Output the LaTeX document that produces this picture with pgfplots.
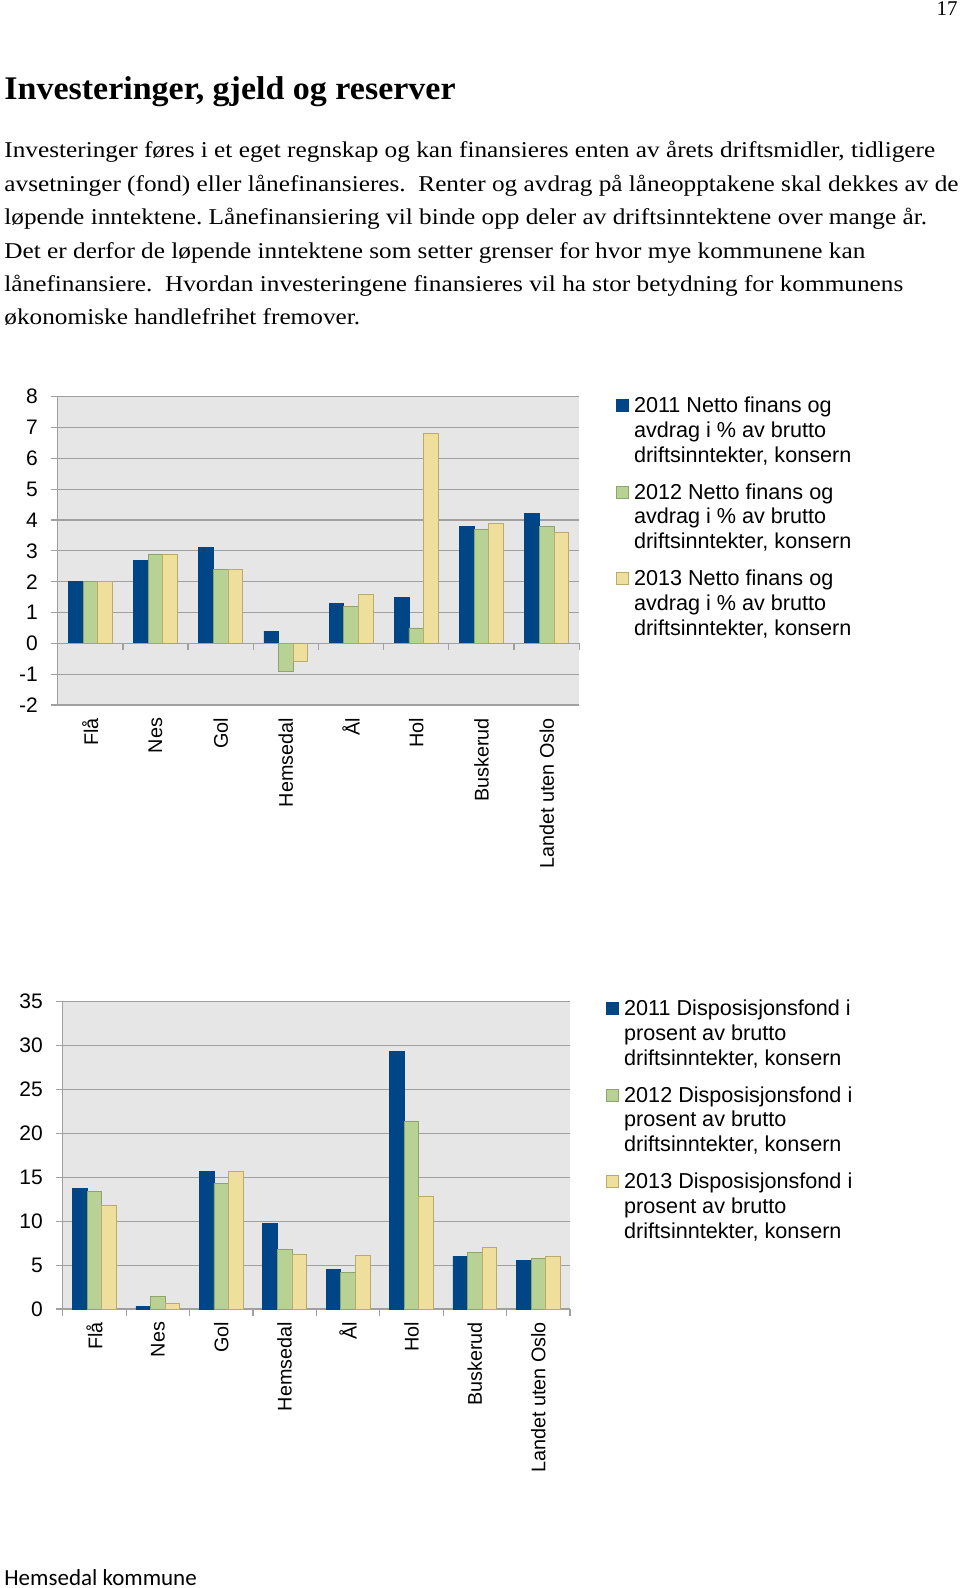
\documentclass[border=0pt]{standalone}
\usepackage{fontspec}
\setmainfont{Liberation Serif}
\newfontfamily\arial{Liberation Sans}
\newfontfamily\calibri{Carlito}
\usepackage{pgfplots}
\pgfplotsset{compat=1.18}
\usepackage{pgfplotstable}

\definecolor{cA}{HTML}{004586}
\definecolor{cB}{HTML}{B8D194}
\definecolor{cBd}{HTML}{8FA468}
\definecolor{cC}{HTML}{EEDF9C}
\definecolor{cCd}{HTML}{BCAA6C}
\definecolor{bg}{HTML}{E6E6E6}
\definecolor{gl}{HTML}{A0A0A0}

\pgfplotstableread{
x y11 y12 y13
0 2.0 2.0 2.0
1 2.7 2.9 2.9
2 3.1 2.4 2.4
3 0.4 -0.9 -0.6
4 1.3 1.2 1.6
5 1.5 0.5 6.8
6 3.8 3.7 3.9
7 4.2 3.8 3.6
}\finans
\pgfplotstableread{
x y11 y12 y13
0 13.7 13.4 11.8
1 0.3 1.4 0.6
2 15.7 14.3 15.7
3 9.7 6.8 6.2
4 4.5 4.2 6.1
5 29.3 21.4 12.8
6 6.0 6.4 7.0
7 5.5 5.8 6.0
}\fond

\pgfplotsset{
  kchart/.style={
    scale only axis,
    clip=false,
    xmin=-0.5, xmax=7.5,
    xtick={0,...,7},
    xticklabels={Flå,Nes,Gol,Hemsedal,Ål,Hol,Buskerud,Landet uten Oslo},
    x tick style={draw=none},
    xticklabel style={rotate=90, anchor=east, inner sep=0pt, font=\arial\fontsize{9.9}{12}\selectfont},
    xticklabel shift=3pt,
    yticklabel style={inner sep=0pt, font=\arial\fontsize{10.5}{12}\selectfont},
    yticklabel shift=6.5pt,
    /pgf/number format/assume math mode=true,
    axis lines*=left,
    axis line style={gl, line width=0.6pt},
    y tick style={gl, line width=0.6pt},
    tick align=outside,
    major tick length=3.3pt,
    ymajorgrids,
    major grid style={gl, line width=0.6pt},
    axis background/.style={fill=bg},
    ybar=0pt,
    bar width=7.3pt,
    legend cell align=left,
    legend image code/.code={\draw[##1, line width=0.4pt] (0pt,9pt) rectangle (6pt,15pt);},
    legend style={draw=none, fill=none, anchor=north west, inner sep=0pt,
      font=\arial\fontsize{10.8}{12.35}\selectfont,
      row sep=10.7pt, column sep=0pt,
      nodes={align=left, inner sep=0pt, outer sep=0pt, text depth=0pt},
      /tikz/every odd column/.append style={column sep=2.5pt}},
  },
  sA/.style={fill=cA, draw=cA, line width=0.4pt},
  sB/.style={fill=cB, draw=cBd, line width=0.4pt},
  sC/.style={fill=cC, draw=cCd, line width=0.4pt},
}

\begin{document}
\begin{tikzpicture}
\path[use as bounding box] (0pt,0pt) rectangle (480pt,-794pt);
\fill[white] (0pt,0pt) rectangle (480pt,-794pt);

\node[anchor=base east, inner sep=0pt, font=\fontsize{10.5}{12}\selectfont] at (479pt,-8pt) {17};
\node[anchor=base west, inner sep=0pt, xscale=1.03, font=\bfseries\fontsize{16.5}{19}\selectfont] at (2pt,-50pt) {Investeringer, gjeld og reserver};

\begin{scope}[every node/.style={anchor=base west, inner sep=0pt, xscale=1.118, font=\frenchspacing\fontsize{11.3}{13}\selectfont}]
\node at (2pt,-79pt) {Investeringer føres i et eget regnskap og kan finansieres enten av årets driftsmidler, tidligere};
\node at (2pt,-95.7pt) {avsetninger (fond) eller lånefinansieres.\ \ Renter og avdrag på låneopptakene skal dekkes av de};
\node at (2pt,-112.4pt) {løpende inntektene. Lånefinansiering vil binde opp deler av driftsinntektene over mange år.};
\node at (2pt,-129.1pt) {Det er derfor de løpende inntektene som setter grenser for hvor mye kommunene kan};
\node at (2pt,-145.8pt) {lånefinansiere.\ \ Hvordan investeringene finansieres vil ha stor betydning for kommunens};
\node at (2pt,-162.5pt) {økonomiske handlefrihet fremover.};
\end{scope}

\begin{axis}[kchart,
  at={(28.85pt,-352.5pt)}, anchor=south west,
  width=260.8pt, height=154.15pt,
  ymin=-2, ymax=8, ytick={-2,-1,...,8},
  legend style={at={(axis description cs:1.070,1.0)}},
]
\addplot[sA] table[x=x,y=y11] {\finans};
\addplot[sB] table[x=x,y=y12] {\finans};
\addplot[sC] table[x=x,y=y13] {\finans};
\legend{{2011 Netto finans og\\avdrag i \% av brutto\\driftsinntekter, konsern},
        {2012 Netto finans og\\avdrag i \% av brutto\\driftsinntekter, konsern},
        {2013 Netto finans og\\avdrag i \% av brutto\\driftsinntekter, konsern}}
\pgfplotsinvokeforeach{0.5,1.5,2.5,3.5,4.5,5.5,6.5,7.5}{\draw[gl, line width=0.6pt] (axis cs:#1,0) -- ++(0pt,-3.5pt);}
\draw[gl, line width=0.6pt] (axis cs:-0.5,0) -- (axis cs:7.5,0);
\end{axis}

\begin{axis}[kchart,
  at={(31.35pt,-654.5pt)}, anchor=south west,
  width=253.65pt, height=153.65pt,
  ymin=0, ymax=35, ytick={0,5,...,35},
  legend style={at={(axis description cs:1.071,1.0)}, yshift=1pt},
]
\addplot[sA] table[x=x,y=y11] {\fond};
\addplot[sB] table[x=x,y=y12] {\fond};
\addplot[sC] table[x=x,y=y13] {\fond};
\legend{{2011 Disposisjonsfond i\\prosent av brutto\\driftsinntekter, konsern},
        {2012 Disposisjonsfond i\\prosent av brutto\\driftsinntekter, konsern},
        {2013 Disposisjonsfond i\\prosent av brutto\\driftsinntekter, konsern}}
\pgfplotsinvokeforeach{-0.5,0.5,1.5,2.5,3.5,4.5,5.5,6.5,7.5}{\draw[gl, line width=0.6pt] (axis cs:#1,0) -- ++(0pt,-3.5pt);}
\end{axis}

\node[anchor=base west, inner sep=0pt, font=\calibri\fontsize{11.5}{13}\selectfont] at (2pt,-792.5pt) {Hemsedal kommune};
\end{tikzpicture}
\end{document}
